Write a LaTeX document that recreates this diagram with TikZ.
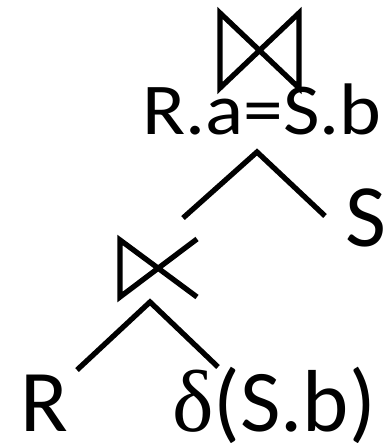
\documentclass[tikz,border=0pt]{standalone}
\usepackage{fontspec}
\setmainfont{Carlito}
\newfontfamily\deltafont{Liberation Serif}
\begin{document}
\begin{tikzpicture}[x=1pt,y=1pt,
  stroke/.style={line width=5.3pt, line join=miter},
  lbl/.style={inner sep=0pt, anchor=base west}]
\useasboundingbox (0,0) rectangle (390,443);
% top join symbol
\coordinate (j1) at (259.5,392.5);
\draw[stroke] (220,430) -- (299,355) -- (299,430) -- (220,355) -- cycle;
% condition
\node[lbl, anchor=base] (cond) at (262,308) {\scalebox{1.09}[1]{\fontsize{73}{73}\selectfont R.a=S.b}};
% upper edges
\coordinate (u1) at (183,225);
\coordinate (u0) at (257,291);
\coordinate (u2) at (325,227);
\draw[stroke] (u1) -- (u0) -- (u2);
\node[lbl] (S) at (345,196) {\fontsize{89}{89}\selectfont S};
% lower join (semi-join) symbol
\coordinate (j2) at (158,175);
\draw[stroke] (197,204) -- (120,146) -- (120,203) -- (197,146);
% lower edges
\coordinate (l1) at (77,73);
\coordinate (l0) at (150,141);
\coordinate (l2) at (218,76);
\draw[stroke] (l1) -- (l0) -- (l2);
\node[lbl] (R) at (20,12) {\fontsize{88}{88}\selectfont R};
\node[lbl] (D) at (172,12) {\fontsize{88}{88}\selectfont{\deltafont δ}(S.b)};
\end{tikzpicture}
\end{document}
